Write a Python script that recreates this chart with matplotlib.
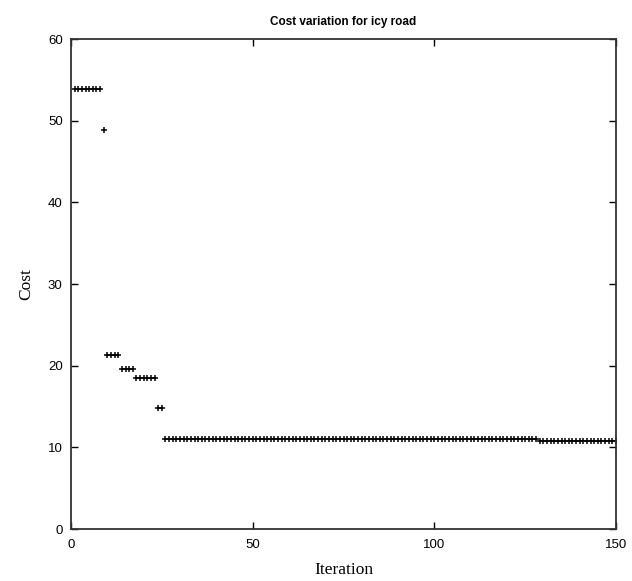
from matplotlib import pyplot as plt
import numpy as np

plt.rcParams["font.family"] = "Liberation Sans"

# cost recorded at each iteration
iters = list(range(1, 151))
cost = ([53.9] * 8 + [48.8] + [21.3] * 4 + [19.6] * 4 + [18.5] * 6
        + [14.8] * 2 + [11.0] * 103 + [10.8] * 22)

fig = plt.figure(figsize=(6.32, 5.81), dpi=100)
ax = fig.add_axes([71 / 632, 1 - 529 / 581, 545 / 632, 490 / 581])

ax.plot(iters, cost, linestyle='none', marker='+', color='black',
        markersize=4, markeredgewidth=1.1)

ax.set_xlim(0, 150)
ax.set_ylim(0, 60)
ax.set_xticks([0, 50, 100, 150])
ax.set_yticks([0, 10, 20, 30, 40, 50, 60])
ax.tick_params(direction='in', top=True, right=True, labelsize=9.5, length=5, width=1)
ax.tick_params(axis='x', pad=7)
ax.tick_params(axis='y', pad=6)
for s in ax.spines.values():
    s.set_linewidth(1.3)
    s.set_color('#333333')

ax.set_title('Cost variation for icy road', fontsize=8.5, fontweight='bold', pad=10)
ax.set_xlabel('Iteration', fontfamily='Liberation Serif', fontsize=12.5, labelpad=8)
ax.set_ylabel('Cost', fontfamily='Liberation Serif', fontsize=12.5, labelpad=10)

fig.savefig('out.png', dpi=100)
